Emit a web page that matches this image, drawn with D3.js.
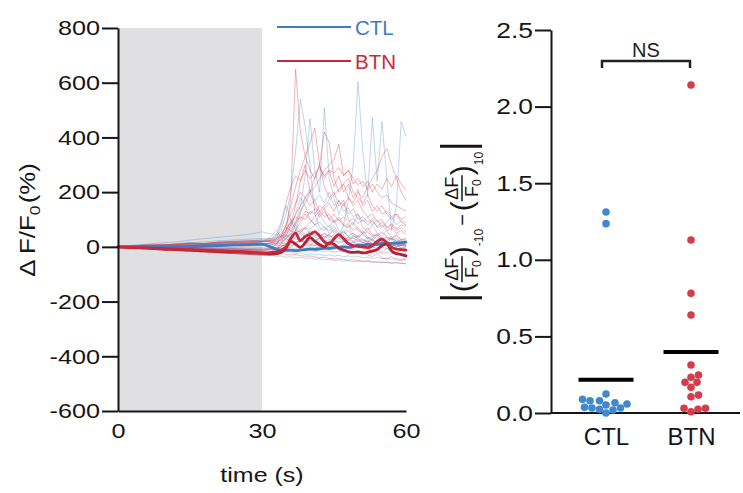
<!DOCTYPE html>
<html><head><meta charset="utf-8">
<script src="https://cdn.jsdelivr.net/npm/d3@7"></script>
<style>body{margin:0;background:#fff}svg{display:block}text{font-family:"Liberation Sans",Arial,Helvetica,sans-serif}</style>
</head><body><svg id="c" width="743" height="493"></svg>
<script>
// ---------- DATA ----------
const time = [0,3,6,9,12,15,18,21,24,27,30,31,32,33,34,35,36,37,38,39,40,41,42,43,44,45,46,47,48,49,50,51,52,53,54,55,56,57,58,59,60];
const stimWindow = [0, 30];
const leftYTicks = [-600,-400,-200,0,200,400,600,800];
const leftXTicks = [0,30,60];
const rightYTicks = [0,0.5,1.0,1.5,2.0,2.5];
const groups = ["CTL","BTN"];

const ctlTraces = [
 [0,2,5,3,8,6,10,12,9,14,12, 10,8,12,15,10,14,18,20,16,22, 25,20,30,45,60,40,80,170,300,604, 350,187,471,240,458,250,60,150,458,403],
 [0,-3,2,5,3,8,12,10,15,18,20, 25,30,40,60,120,197,350,540,440,300, 120,70,60,80,50,40,60,35,30,40, 25,20,30,15,20,10,15,5,10,8],
 [0,3,-2,4,6,2,8,5,10,7,12, 10,15,12,20,30,50,90,150,260,468, 280,200,508,250,180,120,160,100,80,120, 70,60,80,50,40,60,30,40,25,30],
 [0,-2,-5,-3,-8,-6,-10,-8,-12,-10,-15, -12,-10,-8,0,10,30,60,120,180,210, 170,190,160,200,150,170,130,140,110,120, 90,110,80,100,70,90,110,80,95,88],
 [0,4,8,6,12,15,18,22,25,28,30, 32,30,35,40,38,45,60,55,70,65, 80,60,75,50,65,45,55,40,50,35, 45,30,40,28,35,25,30,20,25,22],
 [0,5,10,15,18,25,30,35,40,45,55, 50,48,45,40,42,35,38,30,32,28, 25,30,22,25,20,18,22,15,18,12, 15,10,12,8,10,5,8,3,5,2],
 [0,-3,-6,-10,-12,-15,-18,-22,-25,-28,-30, -32,-30,-35,-33,-38,-36,-40,-38,-42,-40, -45,-43,-47,-45,-50,-48,-52,-50,-54,-52, -55,-53,-57,-55,-58,-56,-60,-58,-60,-62],
 [0,2,-1,3,0,4,2,5,3,6,4, 5,3,6,4,8,5,7,4,6,3, 5,2,4,1,3,0,2,-1,1,-2, 0,-3,-1,-4,-2,-5,-3,-6,-4,-5],
 [0,-2,1,-4,-2,-6,-4,-8,-6,-10,-8, -10,-8,-12,-9,-14,-11,-15,-12,-16,-13, -17,-14,-18,-15,-19,-16,-20,-17,-21,-18, -22,-19,-23,-20,-24,-21,-25,-22,-26,-24],
 [0,6,4,10,8,14,12,18,20,24,22, 25,40,60,35,30,45,28,25,35,20, 22,30,18,15,25,12,20,10,15,8, 12,5,10,3,8,2,6,0,4,2],
 [0,3,7,5,10,14,12,17,20,18,25, 22,20,28,80,150,100,60,45,40,50, 35,30,40,28,25,30,20,25,18,22, 15,20,12,18,10,15,8,12,5,10],
 [0,-4,-2,-7,-5,-10,-8,-14,-12,-16,-18, -20,-18,-22,-15,-20,-18,-25,-22,-28,-25, -30,-27,-32,-29,-34,-31,-36,-33,-38,-35, -40,-37,-42,-39,-44,-41,-45,-43,-46,-45],
 [0,1,3,2,5,4,7,6,9,8,10, 12,15,10,30,60,90,70,50,40,60, 45,35,50,40,30,45,35,25,40,30, 20,35,25,15,30,20,12,25,15,10],
 [0,-1,-3,-2,-5,-3,-6,-4,-7,-5,-8, -6,-5,-8,-4,-7,-3,-6,-2,-5,-1, -4,0,-3,1,-2,2,-1,3,0,4, 1,5,2,6,3,7,4,8,5,6],
 [0,4,2,7,5,10,8,12,15,13,18, 20,22,18,25,40,70,120,180,150,100, 80,120,90,70,100,60,50,80,45,40, 60,35,30,50,25,20,40,18,15,20]
];

const btnTraces = [
 [0,-3,-6,-8,-12,-10,-15,-18,-16,-20,-22, -20,-15,-10,10,60,180,650,420,330,280, 250,300,220,180,200,150,170,120,140,100, 110,90,100,70,80,60,70,50,60,45],
 [0,2,5,3,8,10,7,12,15,13,18, 20,18,25,40,80,150,220,280,330,380, 434,300,250,280,220,260,200,230,180,210, 150,170,130,150,120,130,110,120,100,111],
 [0,-2,-4,-3,-7,-5,-9,-8,-12,-10,-14, -12,-10,-5,0,20,40,80,130,160,200, 250,300,420,380,250,200,230,180,150,170, 130,110,120,90,100,70,80,60,70,55],
 [0,3,1,5,3,7,5,9,8,11,10, 12,15,20,30,50,80,120,150,180,200, 220,250,280,300,320,375,260,280,230,250, 220,240,200,230,210,250,220,260,230,208],
 [0,-1,2,0,3,1,4,2,5,3,6, 5,8,6,15,30,60,90,110,100,130, 120,150,140,160,130,170,150,180,160,200, 180,220,250,280,330,360,300,250,200,170],
 [0,4,8,6,11,14,12,17,20,22,25, 28,30,45,90,160,220,260,240,280,250, 270,290,260,280,270,290,260,280,250,227, 240,210,230,200,180,190,160,150,140,130],
 [0,-3,-1,-5,-3,-8,-6,-10,-9,-13,-12, -10,-5,10,40,80,120,160,200,180,150, 170,130,110,120,90,100,75,85,60,70, 50,55,40,45,30,35,25,30,20,15],
 [0,2,4,3,6,5,8,7,10,9,12, 14,13,18,25,40,80,150,240,300,200, 150,120,140,100,90,110,80,70,90,60, 50,70,45,40,55,35,30,45,25,30],
 [0,-2,0,-4,-2,-6,-4,-8,-6,-10,-9, -8,-6,-4,0,10,20,35,50,70,90, 110,130,150,170,190,210,230,250,200,180, 160,190,150,130,150,120,100,120,90,80],
 [0,3,6,5,9,12,10,15,18,16,20, 22,25,30,40,60,90,110,100,130,120, 140,110,130,100,120,95,110,90,105,85, 100,80,95,75,90,70,85,65,80,75],
 [0,-3,-6,-9,-12,-15,-18,-21,-24,-27,-30, -32,-30,-28,-20,-10,0,15,25,20,10, 5,15,0,-5,5,-10,-15,-5,-20,-25, -15,-30,-35,-25,-40,-45,-35,-48,-50,-45],
 [0,-2,-5,-4,-8,-10,-9,-13,-15,-14,-18, -20,-22,-25,-23,-27,-29,-28,-32,-34,-33, -37,-39,-38,-42,-44,-43,-46,-48,-47,-50, -52,-51,-54,-56,-55,-57,-59,-58,-60,-62],
 [0,2,5,8,6,10,12,15,14,18,20, 22,25,30,50,70,60,50,60,45,55, 40,50,35,45,30,40,25,35,20,30, 15,25,10,20,5,15,0,10,-5,0],
 [0,-1,1,-2,0,-3,-1,-4,-2,-5,-3, -4,-3,-2,10,30,20,10,25,15,5, 20,10,0,15,5,-5,10,0,-10,5, -5,-15,0,-10,-20,-5,-15,-25,-10,-20],
 [0,5,3,9,7,13,11,17,15,21,19, 20,22,25,35,60,100,80,60,70,50, 60,40,50,35,45,30,40,25,35,20, 30,15,25,10,20,5,15,0,10,5],
 [0,-4,-6,-10,-12,-16,-18,-22,-24,-28,-30, -28,-30,-25,-15,5,30,60,90,120,100, 80,90,70,60,75,50,45,60,40,35, 50,30,25,40,20,15,30,10,5,15]
];

const ctlMean  = [0,-1,-2,-1,0,1,3,5,7,8,10, 5,-2,-8,-12,-13,-12,-14,-12,-10,-8, -9,-7,-5,-6,-3,-1,0,-2,1,6, 5,10,7,9,13,12,13,14,15,17];
const btnMeanA = [0,-2,-4,-6,-8,-10,-12,-14,-16,-18,-22, -22,-20,-18,-12,0,30,50,22,38,45, 55,40,18,10,30,45,30,12,5,2, 0,-3,5,20,28,15,-2,-8,-10,-12];
const btnMeanB = [0,-3,-5,-8,-10,-12,-15,-17,-19,-21,-24, -25,-26,-25,-20,-5,20,10,-2,15,35, 20,8,0,15,10,-5,-12,-18,-20,-18, -22,-20,-15,-10,5,10,-15,-25,-28,-33];

const ctlScores = [0.052,0.080,0.024,0.037,0.080,0.020,0.124,0.033,0.059,0.000,0.089,0.033,0.067,1.312,1.236];
const btnScores = [0.008,0.168,0.233,0.248,0.106,0.031,0.313,0.200,0.117,0.024,0.200,0.031,1.129,0.781,0.640,2.141];
const sigLabel = "NS";

// ---------- DRAW ----------
const svg = d3.select("#c");
const INK = "#161616";
const BLUE = "#3b7cc4", RED = "#c8283c";
const DOT_BLUE = "#4189cf", DOT_RED = "#d43e4a";

function stretch(sel, f){
  sel.each(function(){
    const w = this.getComputedTextLength();
    this.setAttribute("textLength", (w*f).toFixed(2));
    this.setAttribute("lengthAdjust", "spacingAndGlyphs");
  });
}

// Left panel
const x = d3.scaleLinear().domain([0,60]).range([118,406]);
const y = d3.scaleLinear().domain([-600,800]).range([411,28]);

svg.append("rect").attr("x", x(stimWindow[0])).attr("y", y(800))
  .attr("width", x(stimWindow[1]) - x(stimWindow[0])).attr("height", y(-600) - y(800))
  .attr("fill", "#e0e0e2");

const line = d3.line().x((d,i)=>x(time[i])).y(d=>y(d));
const smooth = d3.line().x((d,i)=>x(time[i])).y(d=>y(d)).curve(d3.curveMonotoneX);

const thin = svg.append("g").attr("fill","none").attr("stroke-width",1).attr("stroke-linejoin","round");
thin.selectAll(".ct").data(ctlTraces).join("path").attr("d", line)
  .attr("stroke", "#4a8ccc").attr("stroke-opacity", 0.36);
thin.selectAll(".bt").data(btnTraces).join("path").attr("d", line)
  .attr("stroke", "#da3f4d").attr("stroke-opacity", 0.38);

const thick = svg.append("g").attr("fill","none").attr("stroke-linejoin","round").attr("stroke-linecap","round");
thick.append("path").datum(ctlMean).attr("d", smooth).attr("stroke", BLUE).attr("stroke-width", 2.8);
thick.append("path").datum(btnMeanB).attr("d", smooth).attr("stroke", "#b51f33").attr("stroke-width", 2.8);
thick.append("path").datum(btnMeanA).attr("d", smooth).attr("stroke", RED).attr("stroke-width", 2.8);

// axes left
const gy = svg.append("g").attr("transform","translate(118,0)")
  .call(d3.axisLeft(y).tickValues(leftYTicks).tickFormat(d=>String(d)).tickSize(16).tickSizeOuter(0).tickPadding(2));
const gx = svg.append("g").attr("transform","translate(0,411)")
  .call(d3.axisBottom(x).tickValues(leftXTicks).tickFormat(d=>String(d)).tickSize(0).tickSizeOuter(0).tickPadding(12));
[gy,gx].forEach(g=>{
  g.select(".domain").attr("stroke",INK).attr("stroke-width",2);
  g.selectAll(".tick line").attr("stroke",INK).attr("stroke-width",2);
  g.selectAll(".tick text").attr("font-size",21).attr("fill",INK).attr("font-family",null).call(stretch,1.2);
});

// left axis labels
svg.append("text").attr("x",262).attr("y",482).attr("text-anchor","middle")
  .attr("font-size",21).attr("fill",INK).text("time (s)").call(stretch,1.19);
const yl = svg.append("text").attr("transform","translate(35,220) rotate(-90) scale(1.17,1)")
  .attr("text-anchor","middle").attr("font-size",22).attr("fill",INK);
yl.append("tspan").text("\u0394 F/F");
yl.append("tspan").attr("font-size",15).attr("dy",5).text("0");
yl.append("tspan").attr("dy",-5).attr("dx",2).text("(%)");

// legend
const leg = [{k:"CTL",c:BLUE,y:27},{k:"BTN",c:RED,y:61}];
leg.forEach(l=>{
  svg.append("line").attr("x1",277).attr("x2",351).attr("y1",l.y).attr("y2",l.y)
    .attr("stroke",l.c).attr("stroke-width",2);
  svg.append("text").attr("x",355).attr("y",l.y+7.5).attr("font-size",20.5).attr("fill",l.c).text(l.k);
});

// Right panel
const yR = d3.scaleLinear().domain([0,2.5]).range([413,30]);
const xR = d3.scalePoint().domain(groups).range([606,691]);

const gyR = svg.append("g").attr("transform","translate(551,0)")
  .call(d3.axisLeft(yR).tickValues(rightYTicks).tickFormat(d3.format(".1f")).tickSize(16).tickSizeOuter(0).tickPadding(2));
const gxR = svg.append("g").attr("transform","translate(0,413)")
  .call(d3.axisBottom(xR).tickSize(0).tickSizeOuter(0).tickPadding(15));
gxR.select(".domain").attr("d","M551,0H740");
[gyR,gxR].forEach(g=>{
  g.select(".domain").attr("stroke",INK).attr("stroke-width",2);
  g.selectAll(".tick line").attr("stroke",INK).attr("stroke-width",2);
  g.selectAll(".tick text").attr("fill",INK).attr("font-family",null);
});
gyR.selectAll(".tick text").attr("font-size",22).call(stretch,1.2);
gxR.selectAll(".tick text").attr("font-size",24);

// beeswarm
const R = 3.8, D = 7.4;
function swarm(vals, cx){
  const pts = vals.map(v=>({v, y:yR(v)})).sort((a,b)=>a.v-b.v);
  const placed = [];
  pts.forEach(p=>{
    for (let k=0;k<400;k++){
      const off = (k%2 ? 1 : -1) * Math.ceil(k/2) * 0.5;
      const xx = cx + off;
      if (placed.every(q => (q.x-xx)**2 + (q.y-p.y)**2 >= D*D)) { p.x = xx; break; }
    }
    placed.push(p);
  });
  return pts;
}
const sets = [{g:"CTL",v:ctlScores,c:DOT_BLUE},{g:"BTN",v:btnScores,c:DOT_RED}];
sets.forEach(s=>{
  svg.append("g").selectAll("circle").data(swarm(s.v, xR(s.g))).join("circle")
    .attr("cx",d=>d.x).attr("cy",d=>d.y).attr("r",R).attr("fill",s.c);
  const m = d3.mean(s.v);
  svg.append("line").attr("x1",xR(s.g)-27.5).attr("x2",xR(s.g)+27.5)
    .attr("y1",yR(m)).attr("y2",yR(m)).attr("stroke","#000").attr("stroke-width",4);
});

// significance bracket
const bx1 = xR("CTL")-4, bx2 = xR("BTN")-1;
svg.append("path").attr("d",`M${bx1},68V61H${bx2}V68`).attr("fill","none")
  .attr("stroke","#222").attr("stroke-width",2.5);
svg.append("text").attr("x",(bx1+bx2)/2).attr("y",56.5).attr("text-anchor","middle")
  .attr("font-size",20).attr("fill","#222").text(sigLabel);

// right y label: |(ΔF/F0)-10 − (ΔF/F0)10|
const lab0 = svg.append("g").attr("transform","translate(461,222) rotate(-90)");
const lab = lab0.append("g").attr("fill",INK);
let cur = 0;
function bar(){ lab.append("line").attr("x1",cur+1.5).attr("x2",cur+1.5).attr("y1",-21).attr("y2",21)
   .attr("stroke",INK).attr("stroke-width",3); cur += 3; }
function txt(s,size,yy){ const t = lab.append("text").attr("x",cur).attr("y",yy).attr("font-size",size).text(s);
   cur += t.node().getComputedTextLength(); }
function frac(){
  const num = lab.append("text").attr("y",-3).attr("font-size",18).attr("text-anchor","middle").text("\u0394F");
  const den = lab.append("text").attr("y",17).attr("font-size",18).attr("text-anchor","middle");
  den.append("tspan").text("F"); den.append("tspan").attr("font-size",12).attr("dy",3).text("0");
  const w = Math.max(num.node().getComputedTextLength(), den.node().getComputedTextLength()) + 3;
  num.attr("x",cur+w/2); den.attr("x",cur+w/2);
  lab.append("line").attr("x1",cur).attr("x2",cur+w).attr("y1",1).attr("y2",1).attr("stroke",INK).attr("stroke-width",1.5);
  cur += w;
}
bar(); cur += 4;
txt("(",30,11); frac(); txt(")",30,11); txt("-10",12,22);
cur += 3; txt("\u2212",20,8); cur += 3;
txt("(",30,11); frac(); txt(")",30,11); txt("10",12,22);
cur += 4; bar();
lab.attr("transform",`translate(${-cur/2},0)`);
</script></body></html>
